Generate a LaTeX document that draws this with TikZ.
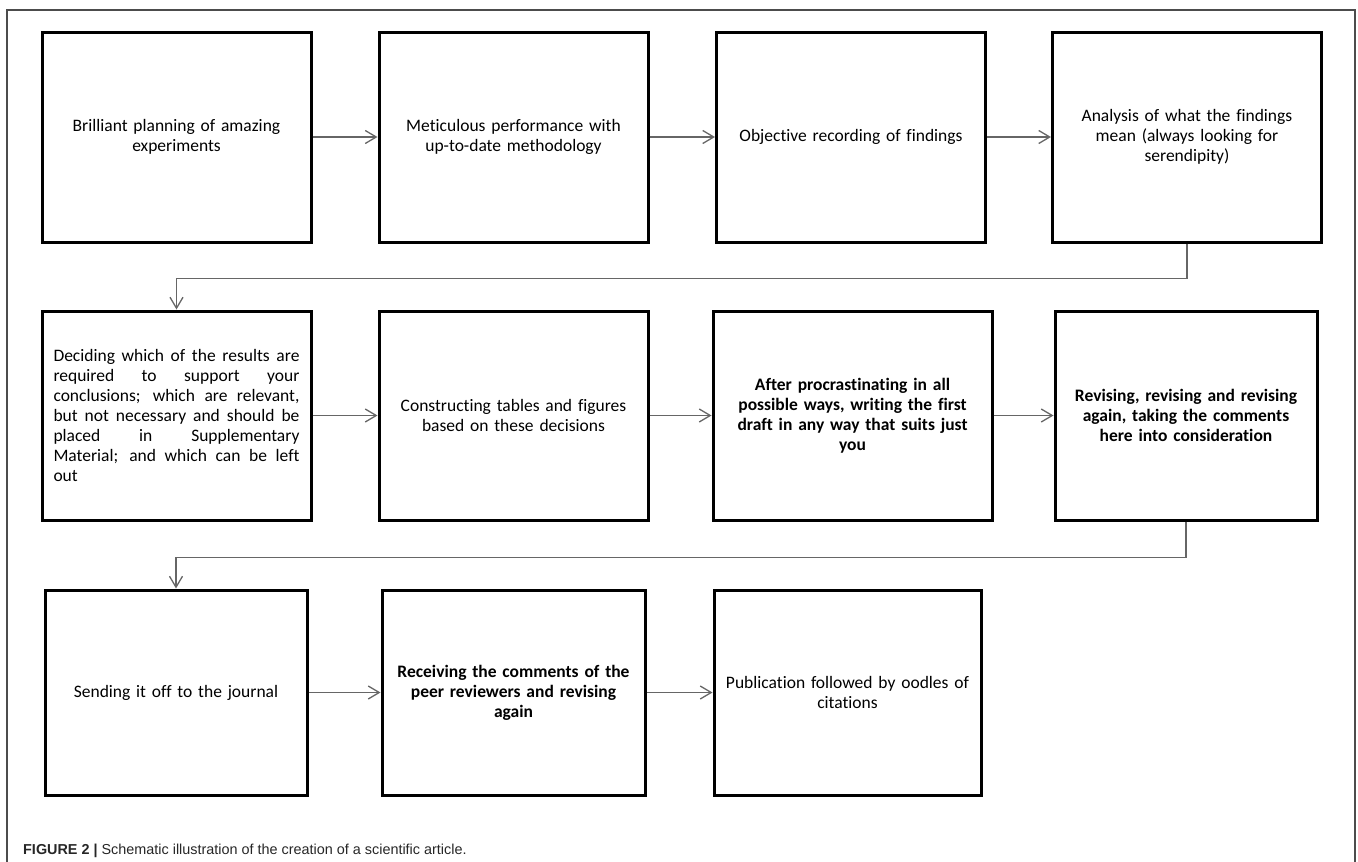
\documentclass[tikz,border=0pt]{standalone}
\usepackage{fontspec}
\setmainfont{Carlito}[Ligatures=NoCommon]
\newfontfamily\captionfont{Liberation Sans}
\usetikzlibrary{arrows.meta}

\begin{document}
\begin{tikzpicture}[x=1pt, y=-1pt,
    stepbox/.style={draw=black, line width=3pt, minimum width=269pt, minimum height=210pt,
        text width=246pt, align=center, font=\fontsize{17.5}{20}\selectfont},
    flow/.style={draw=black!60, line width=1.3pt, -{Straight Barb[length=11pt,width=13pt]}}
]
    % Fix the size of the page
    \useasboundingbox (0,0) rectangle (1358,862);

    % Draw the outer frame (it is open at the bottom)
    \draw[black!70, line width=1.5pt] (7,862) -- (7,10) -- (1355,10) -- (1355,862);

    % First row of boxes
    \node[stepbox] (plan) at (176.5,137) {Brilliant planning of amazing\\experiments};
    \node[stepbox] (perform) at (513.5,137) {Meticulous performance with\\up-to-date methodology};
    \node[stepbox] (record) at (851,137) {Objective recording of findings};
    \node[stepbox] (analyse) at (1187,137) {Analysis of what the findings\\mean (always looking for\\serendipity)};

    % Second row of boxes
    \node[stepbox, minimum height=209pt, align=justify] (decide) at (176.5,415.5)
        {Deciding which of the results are\linebreak
         required to support your\linebreak
         conclusions; which are relevant,\linebreak
         but not necessary and should be\linebreak
         placed in Supplementary\linebreak
         Material; and which can be left\linebreak
         out};
    \node[stepbox, minimum height=209pt] (tables) at (513.5,415.5) {Constructing tables and figures\\based on these decisions};
    \node[stepbox, minimum height=209pt, minimum width=279pt, font=\fontsize{17.5}{20}\selectfont\bfseries] (draft) at (852.5,415.5)
        {After procrastinating in all\\possible ways, writing the first\\draft in any way that suits just\\you};
    \node[stepbox, minimum height=209pt, minimum width=262pt, font=\fontsize{17.5}{20}\selectfont\bfseries] (revise) at (1186,415.5)
        {Revising, revising and revising\\again, taking the comments\\here into consideration};

    % Third row of boxes
    \node[stepbox, minimum height=205pt, minimum width=262pt] (send) at (176,692.5) {Sending it off to the journal};
    \node[stepbox, minimum height=205pt, minimum width=263pt, font=\fontsize{17.5}{20}\selectfont\bfseries] (review) at (513.5,692.5)
        {Receiving the comments of the\\peer reviewers and revising\\again};
    \node[stepbox, minimum height=205pt, minimum width=267pt] (publish) at (847.5,692.5) {Publication followed by oodles of\\citations};

    % Arrows along each row
    \draw[flow] (plan) -- (perform);
    \draw[flow] (perform) -- (record);
    \draw[flow] (record) -- (analyse);
    \draw[flow] (decide) -- (tables);
    \draw[flow] (tables) -- (draft);
    \draw[flow] (draft) -- (revise);
    \draw[flow] (send) -- (review);
    \draw[flow] (review) -- (publish);

    % Arrows from the end of one row to the start of the next
    \draw[flow] (analyse.south) -- ++(0,35) -| (decide.north);
    \draw[flow] (revise.south) -- ++(0,36) -| (send.north);

    % Caption under the diagram
    \node[anchor=base west, inner sep=0pt, text=black!85, font=\captionfont\fontsize{14.4}{16}\selectfont] (caption) at (23,854)
        {\textbf{FIGURE 2 |} Schematic illustration of the creation of a scientific article.};

\end{tikzpicture}
\end{document}
